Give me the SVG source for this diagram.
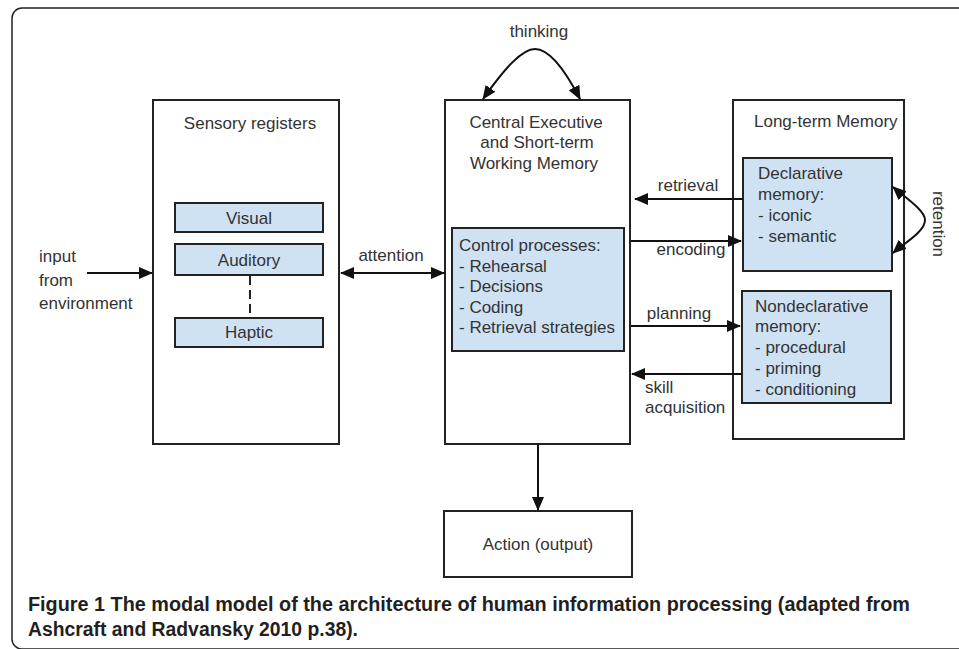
<svg xmlns="http://www.w3.org/2000/svg" width="959" height="649" viewBox="0 0 959 649">
<style>
text{font-family:"Liberation Sans",Arial,sans-serif;font-size:17px;fill:#333}
.c{text-anchor:middle}
.box{fill:#fff;stroke:#222;stroke-width:2}
.sub{fill:#cfe2f3;stroke:#222;stroke-width:2}
.ln{fill:none;stroke:#111;stroke-width:2}
.cap{font-family:"Liberation Sans",Arial,sans-serif;font-weight:bold;font-size:19.5px;fill:#231f20}
</style>
<defs>
<marker id="ah" markerUnits="userSpaceOnUse" markerWidth="14" markerHeight="14" viewBox="0 0 14 12" refX="13" refY="6" orient="auto-start-reverse">
<path d="M0,0 L14,6 L0,12 z" fill="#111"/>
</marker>
</defs>
<rect x="12" y="8" width="970" height="641" rx="10" fill="none" stroke="#222" stroke-width="1.5"/>

<g id="input-label">
<text x="39" y="262">input</text>
<text x="39" y="286">from</text>
<text x="39" y="309">environment</text>
</g>

<g id="sensory">
<rect class="box" x="153" y="100" width="186" height="344"/>
<text class="c" x="250" y="129">Sensory registers</text>
</g>
<g id="visual">
<rect class="sub" x="175" y="203" width="148" height="29"/>
<text class="c" x="249" y="224">Visual</text>
</g>
<g id="auditory">
<rect class="sub" x="175" y="244" width="148" height="31"/>
<text class="c" x="249" y="266">Auditory</text>
</g>
<g id="haptic">
<rect class="sub" x="175" y="318" width="148" height="29"/>
<text class="c" x="249" y="338">Haptic</text>
</g>

<g id="central">
<rect class="box" x="445" y="100" width="185" height="344"/>
<text class="c" x="536" y="128">Central Executive</text>
<text class="c" x="537" y="148">and Short-term</text>
<text class="c" x="534" y="169">Working Memory</text>
</g>
<g id="control">
<rect class="sub" x="452" y="228" width="172" height="123"/>
<text x="459" y="251">Control processes:</text>
<text x="459" y="272">- Rehearsal</text>
<text x="459" y="292">- Decisions</text>
<text x="459" y="313">- Coding</text>
<text x="459" y="333">- Retrieval strategies</text>
</g>

<g id="longterm">
<rect class="box" x="733" y="100" width="171" height="339"/>
<text x="754" y="127">Long-term Memory</text>
</g>
<g id="declarative">
<rect class="sub" x="743" y="158" width="149" height="113"/>
<text x="758" y="179">Declarative</text>
<text x="758" y="200">memory:</text>
<text x="758" y="221">- iconic</text>
<text x="758" y="242">- semantic</text>
</g>
<g id="nondeclarative">
<rect class="sub" x="742" y="291" width="149" height="112"/>
<text x="755" y="312">Nondeclarative</text>
<text x="755" y="332">memory:</text>
<text x="755" y="353">- procedural</text>
<text x="755" y="374">- priming</text>
<text x="755" y="395">- conditioning</text>
</g>

<g id="action">
<rect class="box" x="444" y="511" width="188" height="66"/>
<text class="c" x="538" y="550">Action (output)</text>
</g>

<g id="connectors">
<line class="ln" x1="87" y1="273" x2="152" y2="273" marker-end="url(#ah)"/>
<line x1="250" y1="276" x2="250" y2="317" stroke="#222" stroke-width="2" stroke-dasharray="9,5"/>
<line class="ln" x1="341" y1="273" x2="444" y2="273" marker-start="url(#ah)" marker-end="url(#ah)"/>
<path class="ln" d="M483,99 C505,68 522,49 535,49 C548,49 564,68 580,99" marker-start="url(#ah)" marker-end="url(#ah)"/>
<line class="ln" x1="743" y1="199" x2="635" y2="199" marker-end="url(#ah)"/>
<line class="ln" x1="631" y1="241" x2="741" y2="241" marker-end="url(#ah)"/>
<line class="ln" x1="631" y1="326" x2="740" y2="326" marker-end="url(#ah)"/>
<line class="ln" x1="742" y1="374" x2="632" y2="374" marker-end="url(#ah)"/>
<path class="ln" d="M893,187 C903,196 925,210 925,220 C925,232 903,244 893,253" marker-start="url(#ah)" marker-end="url(#ah)"/>
<line class="ln" x1="538" y1="444" x2="538" y2="510" marker-end="url(#ah)"/>
</g>

<g id="labels">
<text class="c" x="539" y="37">thinking</text>
<text class="c" x="391" y="261">attention</text>
<text class="c" x="688" y="191">retrieval</text>
<text class="c" x="691" y="255">encoding</text>
<text class="c" x="679" y="319">planning</text>
<text x="645" y="393">skill</text>
<text x="645" y="413">acquisition</text>
<text class="c" transform="translate(933,224) rotate(90)">retention</text>
</g>

<g id="caption">
<text class="cap" x="28" y="611" textLength="882" lengthAdjust="spacingAndGlyphs">Figure 1 The modal model of the architecture of human information processing (adapted from</text>
<text class="cap" x="28" y="636" textLength="330" lengthAdjust="spacingAndGlyphs">Ashcraft and Radvansky 2010 p.38).</text>
</g>
</svg>
